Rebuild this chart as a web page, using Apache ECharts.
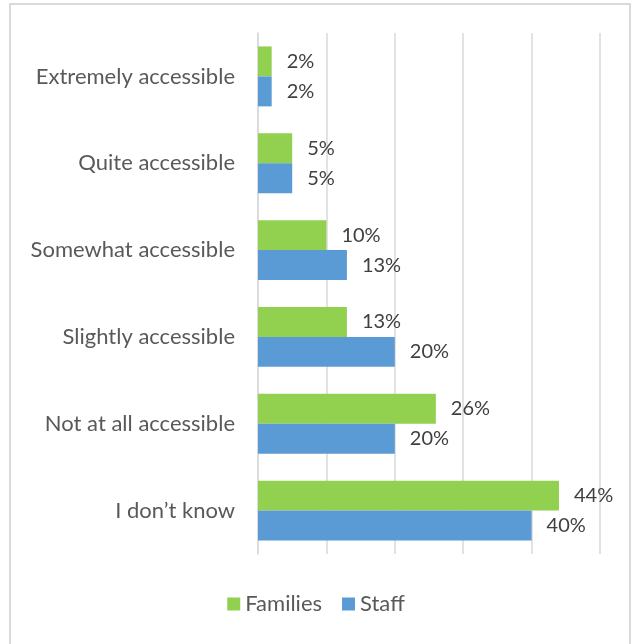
<!DOCTYPE html>
<html>
<head>
<meta charset="utf-8">
<script src="https://cdn.jsdelivr.net/npm/echarts@6/dist/echarts.min.js"></script>
<style>
  html, body { margin: 0; padding: 0; background: #fff; overflow: hidden; }
  #chart { width: 632px; height: 644px; position: absolute; left: 0; top: 0; }
  #frame { position: absolute; left: 9px; top: 3px; width: 618px; height: 700px;
           border: 2px solid #d9d9d9; pointer-events: none; }
</style>
</head>
<body>
<div id="chart"></div>
<div id="frame"></div>
<script>
const categories = [
  'Extremely accessible',
  'Quite accessible',
  'Somewhat accessible',
  'Slightly accessible',
  'Not at all accessible',
  'I don\u2019t know'
];
const families = [2, 5, 10, 13, 26, 44];
const staff = [2, 5, 13, 20, 20, 40];
const seriesNames = ['Families', 'Staff'];
const seriesColors = ['#92D050', '#5B9BD5'];

const fontFamily = 'Lato, "Open Sans", sans-serif';

const chart = echarts.init(document.getElementById('chart'));

function barSeries(name, data, color) {
  return {
    name: name,
    type: 'bar',
    data: data,
    barGap: '0%',
    barCategoryGap: '31%',
    itemStyle: { color: color },
    label: {
      show: true,
      position: 'right',
      distance: 15,
      formatter: '{c}%',
      color: '#404040',
      fontSize: 20,
      fontFamily: fontFamily
    }
  };
}

chart.setOption({
  animation: false,
  textStyle: { fontFamily: fontFamily },
  grid: { left: 258, right: 32, top: 33, bottom: 90, containLabel: false },
  legend: {
    bottom: 24,
    left: 'center',
    itemWidth: 13,
    itemHeight: 13,
    itemGap: 20,
    icon: 'rect',
    textStyle: { color: '#595959', fontSize: 22, fontFamily: fontFamily },
    data: seriesNames
  },
  xAxis: {
    type: 'value',
    min: 0,
    max: 50,
    interval: 10,
    axisLabel: { show: false },
    axisLine: { show: false },
    axisTick: { show: false },
    splitLine: { show: true, lineStyle: { color: '#d9d9d9', width: 1.5 } }
  },
  yAxis: {
    type: 'category',
    inverse: true,
    data: categories,
    axisLine: { show: true, lineStyle: { color: '#d9d9d9', width: 1.5 } },
    axisTick: { show: false },
    axisLabel: { color: '#595959', fontSize: 22, margin: 23, fontFamily: fontFamily }
  },
  series: [
    barSeries(seriesNames[0], families, seriesColors[0]),
    barSeries(seriesNames[1], staff, seriesColors[1])
  ]
});
</script>
</body>
</html>
